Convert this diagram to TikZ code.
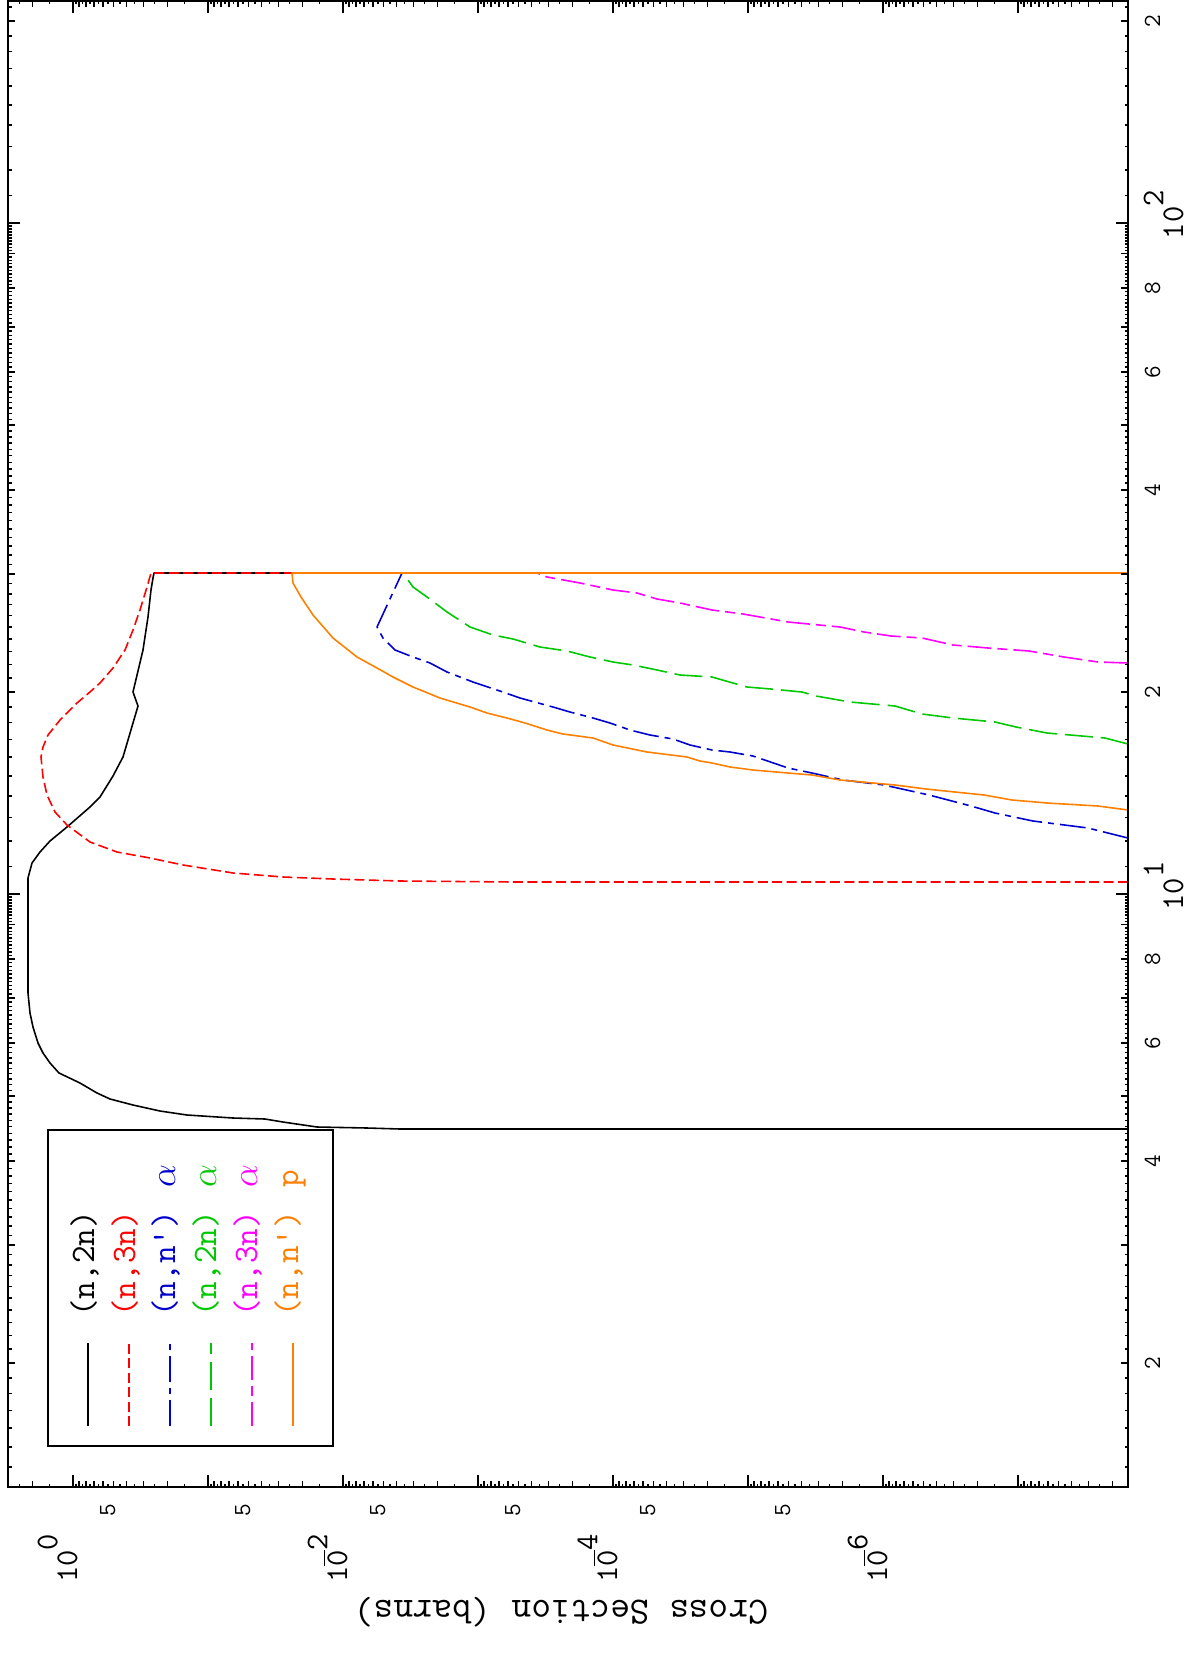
\documentclass[tikz,border=0pt]{standalone}
\usetikzlibrary{calc}
\definecolor{nblue}{RGB}{0,0,205}
\definecolor{ngreen}{RGB}{0,200,0}
\definecolor{norange}{RGB}{255,128,0}
\definecolor{nmagenta}{RGB}{255,0,255}
\newcommand{\decpos}[1]{10\rlap{\raisebox{.62em}{#1}}}
\newcommand{\decneg}[1]{1$\overline{\hbox{0}}$\rlap{\raisebox{.62em}{#1}}}
\newcommand{\digfont}{\fontsize{14}{14}\selectfont\ttfamily}
\newcommand{\decfont}{\fontsize{18}{18}\selectfont\ttfamily}
\newcommand{\legfont}{\fontsize{19.5}{20}\selectfont\ttfamily}

\begin{document}
\begin{tikzpicture}[x=0.02cm,y=-0.02cm,
    xsline/.style={line width=0.9pt,line join=round},
    sig2n/.style={xsline,black},
    sig3n/.style={xsline,red,dash pattern=on 5.7pt off 2.5pt},
    signa/.style={xsline,nblue,dash pattern=on 14.7pt off 3.4pt on 3.4pt off 3.4pt},
    sig2na/.style={xsline,ngreen,dash pattern=on 16pt off 4.5pt},
    sig3na/.style={xsline,nmagenta,dash pattern=on 13.6pt off 3.4pt on 5.7pt off 3.4pt},
    signp/.style={xsline,norange},
    ticklab/.style={rotate=90,inner sep=0pt,anchor=base,font=\digfont},
    declab/.style={rotate=90,inner sep=0pt,font=\decfont},
    leglab/.style={rotate=90,inner sep=0pt,anchor=base west,font=\legfont}]
    \useasboundingbox (0,0) rectangle (1192,1659);

    % cross sections
    \begin{scope}
      \clip (8,1) rectangle (1128,1487);
      \draw[sig2n] (1128,1129)--(400,1129)--(367,1128)--(317,1127)--(283,1122)--(265,1119)
        --(233,1118)--(187,1115)--(160,1111)--(133,1105)--(110,1099)--(97,1093)--(80,1083)
        --(59,1073)--(50,1063)--(43,1053)--(38,1043)--(33,1027)--(30,1013)--(28,993)
        --(28,878)--(32,863)--(40,852)--(50,841)--(67,827)--(90,807)--(100,797)--(113,776)
        --(123,757)--(133,723)--(138,706)--(133,692)--(143,650)--(148,617)--(151,590)
        --(153,578)--(154,573)--(1128,573);
      \draw[sig3n] (1128,882)--(513,882)--(400,881)--(333,879)--(283,877)--(233,873)
        --(183,865)--(150,858)--(117,852)--(90,842)--(67,825)--(55,812)--(47,795)--(43,777)
        --(41,757)--(43,747)--(48,735)--(60,720)--(77,703)--(90,692)--(100,683)--(113,668)
        --(125,650)--(133,630)--(140,610)--(147,587)--(151,573)--(1128,573);
      \draw[signa] (1128,838)--(1088,828)--(1033,821)--(995,813)--(971,806)--(929,795)
        --(884,785)--(843,780)--(812,773)--(788,768)--(753,756)--(730,752)--(712,750)
        --(690,745)--(673,739)--(650,735)--(630,730)--(610,723)--(593,718)--(570,712)
        --(553,707)--(520,698)--(497,690)--(473,682)--(447,672)--(430,663)--(413,657)
        --(395,650)--(383,638)--(377,627)--(402,573)--(1128,573);
      \draw[sig2na] (1128,744)--(1105,738)--(1047,733)--(1016,727)--(995,722)--(953,718)
        --(922,714)--(895,706)--(850,702)--(816,696)--(802,692)--(771,689)--(747,687)
        --(712,677)--(680,675)--(657,670)--(633,665)--(613,662)--(590,657)--(567,651)
        --(540,647)--(513,639)--(493,635)--(470,627)--(447,612)--(427,597)--(413,587)
        --(403,573)--(1128,573);
      \draw[sig3na] (1128,663)--(1098,662)--(1064,657)--(1029,651)--(988,648)--(953,645)
        --(922,638)--(891,636)--(864,632)--(840,627)--(788,622)--(743,614)--(712,610)
        --(680,603)--(657,599)--(637,593)--(613,590)--(580,583)--(547,577)--(537,573)
        --(1128,573);
      \draw[signp] (1128,810)--(1098,806)--(1047,803)--(1012,800)--(984,795)--(926,789)
        --(895,785)--(840,780)--(812,775)--(788,773)--(753,770)--(730,767)--(712,763)
        --(700,761)--(687,757)--(647,752)--(613,745)--(593,738)--(563,734)--(547,730)
        --(525,723)--(507,718)--(487,713)--(470,707)--(440,698)--(413,687)--(393,677)
        --(377,668)--(357,657)--(333,638)--(313,615)--(301,597)--(293,583)--(292,573)
        --(1128,573);
    \end{scope}

    % ticks
    \begin{scope}[line width=0.8pt]
      \clip (8,1) rectangle (1128,1487);
      \foreach \k in {0,...,7}
        \draw (73+135*\k,1) -- ++(0,12) (73+135*\k,1487) -- ++(0,-12);
      \foreach \k in {-1,...,7}
        \foreach \m in {15,20,...,95}{
          \pgfmathsetmacro\tx{73+135*(\k+1-log10(\m/10))}
          \pgfmathsetmacro\tl{ifthenelse(mod(\m,10)==0,6,3.5)}
          \draw (\tx,1) -- ++(0,\tl) (\tx,1487) -- ++(0,-\tl);
        }
      \foreach \j in {0,1,2}
        \foreach \m in {10,...,99}{
          \pgfmathsetmacro\ty{1565-671*(\j+log10(\m/10))}
          \pgfmathsetmacro\tl{ifthenelse(\m==10,12,ifthenelse(mod(\m,10)==0,7,3.5))}
          \draw (8,\ty) -- ++(\tl,0) (1128,\ty) -- ++(-\tl,0);
        }
    \end{scope}
    \draw[line width=1.1pt] (8,1) rectangle (1128,1487);

    % energy labels
    \foreach \e/\ty in {2/1363,4/1161,6/1043,8/959,2/692,4/490,6/372,8/288,2/21}
      \node[ticklab] (e\ty) at (1160,\ty) {\e};
    \node[declab,anchor=base] (e894) at (1183,894) {\decpos{1}};
    \node[declab,anchor=base] (e223) at (1183,223) {\decpos{2}};

    % cross section labels
    \foreach \k in {0,...,5}
      \node[ticklab] (s\k) at (115+135*\k,1510) {5};
    \node[declab,anchor=base west] (d0) at (77,1583) {\decpos{0}};
    \node[declab,anchor=base west] (d2) at (347,1583) {\decneg{2}};
    \node[declab,anchor=base west] (d4) at (617,1583) {\decneg{4}};
    \node[declab,anchor=base west] (d6) at (887,1583) {\decneg{6}};
    \node[rotate=180,inner sep=0pt,font=\fontsize{21.8}{22}\selectfont\ttfamily] (ylab)
      at (561,1612) {Cross Section (barns)};

    % legend
    \draw[line width=1.1pt] (48,1130) rectangle (333,1446);
    \draw[sig2n] (88,1426) -- (88,1343);
    \draw[sig3n] (129,1426) -- (129,1343);
    \draw[signa] (170,1426) -- (170,1343);
    \draw[sig2na] (211,1426) -- (211,1343);
    \draw[sig3na] (252,1426) -- (252,1343);
    \draw[signp] (293,1426) -- (293,1343);
    \node[leglab] (l1) at (94,1317) {(n,2n)};
    \node[leglab,text=red] (l2) at (135,1317) {(n,3n)};
    \node[leglab,text=nblue] (l3) at (175,1317) {(n,n')\ \,$\alpha$};
    \node[leglab,text=ngreen] (l4) at (216,1317) {(n,2n)\ \,$\alpha$};
    \node[leglab,text=nmagenta] (l5) at (257,1317) {(n,3n)\ \,$\alpha$};
    \node[leglab,text=norange] (l6) at (298,1317) {(n,n')\ \,p};
  \end{tikzpicture}
\end{document}
